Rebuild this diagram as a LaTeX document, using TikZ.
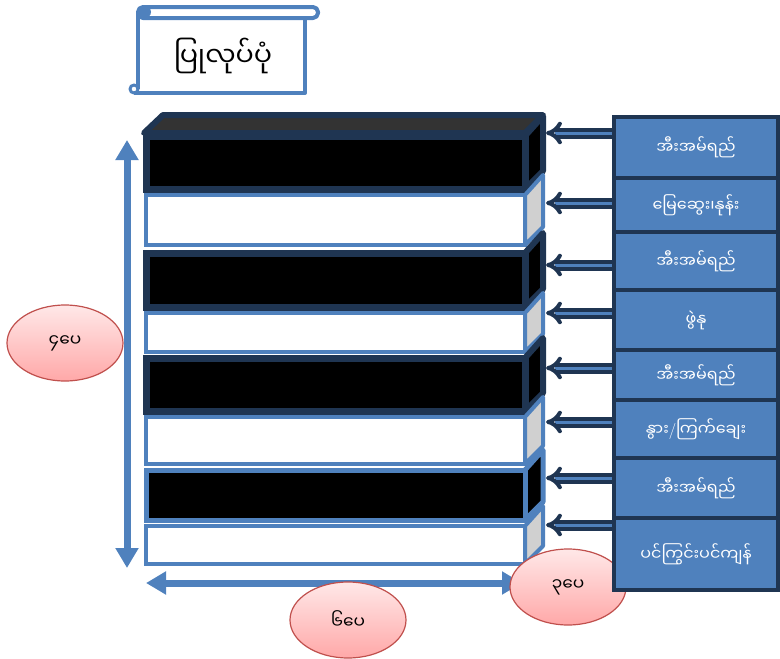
\documentclass[tikz,border=0pt]{standalone}
\usepackage{fontspec}
\newfontfamily\mmfont[Script=Myanmar]{Noto Sans Myanmar UI}
\usetikzlibrary{arrows.meta,shapes.geometric}

\definecolor{navy}{HTML}{1F3552}
\definecolor{steel}{HTML}{4F81BD}
\definecolor{sidegrey}{HTML}{D0D0D0}
\definecolor{topgrey}{HTML}{333333}
\definecolor{rosered}{HTML}{C0504D}
\definecolor{rosetop}{HTML}{FFE8E8}
\definecolor{rosebot}{HTML}{FFA8A8}

\begin{document}
\begin{tikzpicture}[x=1pt, y=-1pt,
    dark layer/.style={fill=black, draw=navy, line width=7pt},
    dark side/.style={fill=black, draw=navy, line width=6pt, line join=round},
    dark top/.style={fill=topgrey, draw=navy, line width=6pt, line join=round},
    light layer/.style={fill=white, draw=steel, line width=4pt},
    light side/.style={fill=sidegrey, draw=steel, line width=4pt, line join=round},
    rim layer/.style={fill=black, draw=steel, line width=5pt},
    rim side/.style={fill=black, draw=steel, line width=5pt, line join=round},
    scroll/.style={draw=steel, line width=4pt, line join=round},
    dim/.style={draw=steel, line width=7pt,
        {Triangle[width=22pt,length=20pt]}-{Triangle[width=22pt,length=20pt]}},
    feed/.style={draw=navy, line width=4pt, double=steel, double distance=3pt, -{Implies[scale=1.2]}},
    infobox/.style={rectangle, draw=navy, fill=steel, line width=4pt, text=white,
        minimum width=164pt, font=\mmfont\fontsize{16}{19}\selectfont},
    size/.style={ellipse, draw=rosered, line width=1.2pt, top color=rosetop, bottom color=rosebot,
        minimum width=116pt, minimum height=76pt, font=\mmfont\fontsize{17}{20}\selectfont}]
    \useasboundingbox (0,0) rectangle (780,659);

    % Title scroll
    \draw[scroll, rounded corners=5pt] (138,7) rectangle (318,18);
    \draw[scroll] (138,12) -- (138,89) (134,93) -- (305,93) -- (305,18);
    \fill[steel] (145,12) circle (6);
    \draw[scroll, line width=3pt] (134,89) circle (4);
    \node[font=\mmfont\fontsize{27}{31}\selectfont] (title) at (223,56) {ပြုလုပ်ပုံ};

    % Layers
    \draw[dark top] (144,133) -- (163,115) -- (543,115) -- (525,133) -- cycle;
    \foreach \ya/\yb/\kind in {133/192/dark, 192/248/light, 250/310/dark, 310/355/light,
        355/414/dark, 414/467/light, 467/523/rim, 523/567/light} {
        \path[\kind\space side] (525,\ya+3) -- (543,\ya-17) -- (543,\yb-21) -- (525,\yb-3) -- cycle;
        \path[\kind\space layer] (146,\ya+3) rectangle (525,\yb-3);
    }

    % Dimensions
    \coordinate (htop) at (127,140);
    \coordinate (hbot) at (127,568);
    \coordinate (wl) at (146,583);
    \coordinate (wr) at (522,583);
    \draw[dim] (htop) -- (hbot);
    \draw[dim] (wl) -- (wr);
    \node[size] (four) at (65,343) {၄ပေ};
    \node[size] (six) at (348,620) {၆ပေ};
    \node[size] (three) at (568,587) {၃ပေ};

    % Right boxes
    \foreach \i/\ya/\yb/\yt/\txt in {1/117/178/133/အီးအမ်ရည်, 2/178/232/203/မြေဆွေး၊နုန်း,
        3/232/290/265/အီးအမ်ရည်, 4/290/350/313/ဖွဲနု, 5/350/400/368/အီးအမ်ရည်,
        6/400/458/422/{နွား{\rmfamily/}ကြက်ချေး}, 7/458/518/478/အီးအမ်ရည်, 8/518/590/525/ပင်ကြွင်းပင်ကျန်} {
        \node[infobox, minimum height={(\yb-\ya)*1pt}] (box\i) at (696,{(\ya+\yb)/2}) {\txt};
        \coordinate (tip\i) at (546,\yt);
        \draw[feed] (box\i.west |- tip\i) -- (tip\i);
    }
\end{tikzpicture}
\end{document}
